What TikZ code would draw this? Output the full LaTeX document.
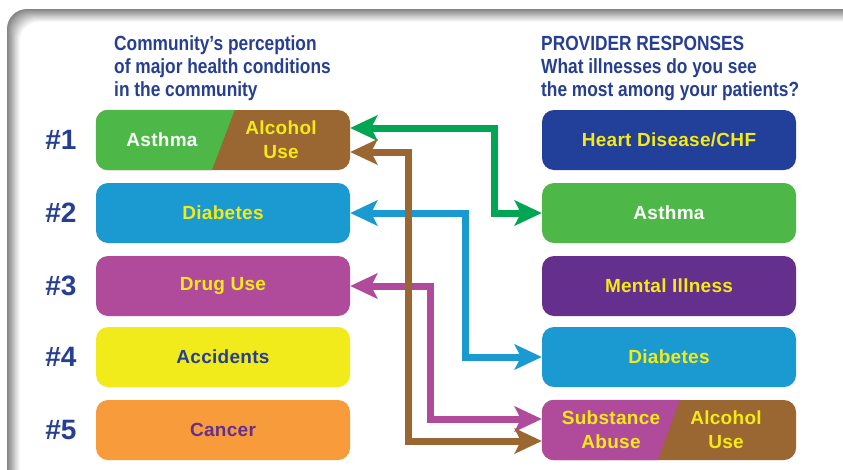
\documentclass[tikz,border=0pt]{standalone}
\usepackage{fontspec}
\setmainfont{Liberation Sans}
\newfontfamily\condfont[FakeStretch=0.845]{Liberation Sans}
\newfontfamily\boxfont[LetterSpace=1.5]{Liberation Sans}
\usetikzlibrary{arrows.meta}
\definecolor{navy}{HTML}{263F93}
\definecolor{cgreen}{HTML}{4DB848}
\definecolor{cbrown}{HTML}{9A6631}
\definecolor{cblue}{HTML}{1B9AD1}
\definecolor{cmag}{HTML}{B04B9B}
\definecolor{cyel}{HTML}{F2EB1B}
\definecolor{corange}{HTML}{F89B3A}
\definecolor{cdblue}{HTML}{22409A}
\definecolor{cpurple}{HTML}{652F8E}
\definecolor{agreen}{HTML}{00A651}
\definecolor{tyel}{HTML}{F5EA14}
\tikzset{
  box/.style={rounded corners=12pt, minimum width=254pt, minimum height=60pt, inner sep=0pt,
    font=\boxfont\bfseries\fontsize{19}{24}\selectfont, align=center},
  rank/.style={font=\bfseries\fontsize{28}{30}\selectfont, text=navy, inner sep=0pt},
  head/.style={font=\condfont\bfseries\fontsize{20.5}{23}\selectfont, text=navy, inner sep=0pt, anchor=base west},
  btext/.style={font=\boxfont\bfseries\fontsize{19}{24}\selectfont, align=center, inner sep=0pt},
  conn/.style={line width=7pt, {Stealth[length=27pt,width=25pt,inset=6pt]}-{Stealth[length=27pt,width=25pt,inset=6pt]}}
}
\begin{document}
\begin{tikzpicture}[x=1pt,y=-1pt]
\useasboundingbox (0,0) rectangle (843,469);
\clip (0,0) rectangle (843,469);
\fill[white] (0,0) rectangle (843,469);
\foreach \i in {0,...,14}{
  \pgfmathsetmacro\p{48-3.4*\i}
  \fill[black!\p, rounded corners=20pt] (7+0.9*\i, 9+0.9*\i) rectangle (900,520);
}
\fill[white, rounded corners=16pt] (21,23) rectangle (900,520);

% headers
\node[head] (h1) at (114,50) {Community’s perception};
\node[head] (h2) at (114,73) {of major health conditions};
\node[head] (h3) at (114,96) {in the community};
\node[head] (h4) at (541,50) {PROVIDER RESPONSES};
\node[head] (h5) at (541,73) {What illnesses do you see};
\node[head] (h6) at (541,96) {the most among your patients?};

% ranks
\node[rank] (n1) at (61,140) {\#1};
\node[rank] (n2) at (61,213) {\#2};
\node[rank] (n3) at (61,286) {\#3};
\node[rank] (n4) at (61,357) {\#4};
\node[rank] (n5) at (61,430) {\#5};

% left column
\node[box, fill=cbrown] (l1) at (223,140) {};
\begin{scope}
  \clip[rounded corners=12pt] (l1.north west) rectangle (l1.south east);
  \fill[cgreen] (l1.north west) -- ([xshift=139pt]l1.north west) -- ([xshift=116pt]l1.south west) -- (l1.south west) -- cycle;
\end{scope}
\node[btext, text=white] (l1a) at (162,140) {Asthma};
\node[btext, text=tyel] (l1b) at (281,140) {Alcohol\\Use};
\node[box, fill=cblue, text=tyel] (l2) at (223,213) {Diabetes};
\node[box, fill=cmag, text=tyel] (l3) at (223,286) {Drug Use};
\node[box, fill=cyel, text=navy] (l4) at (223,357) {Accidents};
\node[box, fill=corange, text=cpurple] (l5) at (223,430) {Cancer};

% right column
\node[box, fill=cdblue, text=tyel] (r1) at (669,140) {Heart Disease/CHF};
\node[box, fill=cgreen, text=white] (r2) at (669,213) {Asthma};
\node[box, fill=cpurple, text=tyel] (r3) at (669,286) {Mental Illness};
\node[box, fill=cblue, text=tyel] (r4) at (669,357) {Diabetes};
\node[box, fill=cbrown] (r5) at (669,430) {};
\begin{scope}
  \clip[rounded corners=12pt] (r5.north west) rectangle (r5.south east);
  \fill[cmag] (r5.north west) -- ([xshift=138pt]r5.north west) -- ([xshift=116pt]r5.south west) -- (r5.south west) -- cycle;
\end{scope}
\node[btext, text=tyel] (r5a) at (611,430) {Substance\\Abuse};
\node[btext, text=tyel] (r5b) at (726,430) {Alcohol\\Use};

% connectors
\draw[conn, agreen] ([yshift=12pt]l1.east) -| ([xshift=-47pt]r2.west) -- (r2.west);
\draw[conn, cblue] (l2.east) -| ([xshift=-76pt]r4.west) -- (r4.west);
\draw[conn, cmag] (l3.east) -| ([xshift=-111pt,yshift=11pt]r5.west) -- ([yshift=11pt]r5.west);
\draw[conn, cbrown] ([yshift=-12pt]l1.east) -| ([xshift=-133pt,yshift=-11pt]r5.west) -- ([yshift=-11pt]r5.west);
\end{tikzpicture}
\end{document}
